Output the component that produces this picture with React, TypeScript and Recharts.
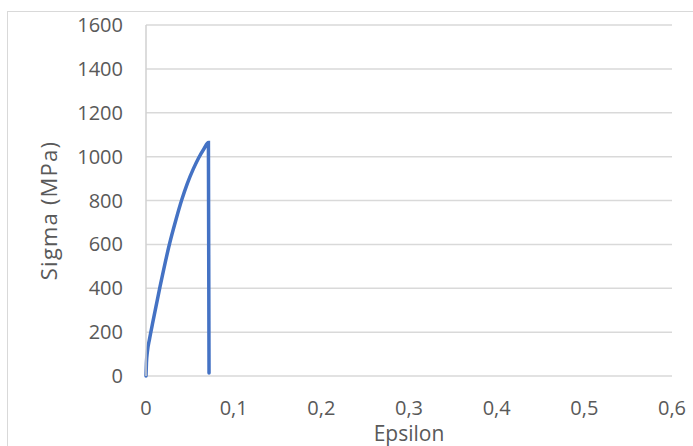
import { CartesianGrid, Label, Line, LineChart, XAxis, YAxis } from "recharts";

const epsilon = [0, 0.0005, 0.0015, 0.004, 0.008, 0.016, 0.027, 0.034, 0.0407, 0.047, 0.054, 0.06, 0.066, 0.0712, 0.0719];
const sigma = [0, 60, 108, 168, 250, 407, 605, 710, 802, 876, 944, 994, 1035, 1064, 14];
const xTicks = [0, 0.1, 0.2, 0.3, 0.4, 0.5, 0.6];
const yTicks = [0, 200, 400, 600, 800, 1000, 1200, 1400, 1600];

const data = epsilon.map((e, i) => ({ eps: e, sigma: sigma[i] }));

const font = "'Open Sans', 'Noto Sans', sans-serif";
const textColor = "#595959";
const tickStyle = { fill: textColor, fontSize: 20, fontFamily: font };

const App = () => (
  <div style={ { position: "absolute", left: 0, top: 0, width: 693, height: 446, overflow: "hidden", background: "#fff" } }>
    <div style={ { position: "absolute", left: 7, top: 11, width: 720, height: 480, border: "1px solid #d9d9d9" } }/>
    <LineChart width={ 693 } height={ 446 } data={ data } margin={ { top: 25, right: 21, left: 0, bottom: 0 } }
               style={ { position: "absolute", left: 0, top: 0 } }>
      <CartesianGrid vertical={ false } stroke="#d9d9d9" strokeWidth={ 1.5 }/>
      <XAxis dataKey="eps" type="number" domain={ [0, 0.6] } ticks={ xTicks } height={ 70 }
             axisLine={ false } tickLine={ false } tickMargin={ 19 } tick={ tickStyle }
             tickFormatter={ (v: number) => String(v).replace(".", ",") }>
        <Label content={ ({ viewBox }: any) => (
          <text x={ viewBox.x + viewBox.width / 2 } y={ viewBox.y + 65 } textAnchor="middle"
                fill={ textColor } fontSize={ 21 } fontFamily={ font }>Epsilon</text>
        ) }/>
      </XAxis>
      <YAxis type="number" domain={ [0, 1600] } ticks={ yTicks } width={ 146 }
             axisLine={ { stroke: "#d0d0d0", strokeWidth: 1.5 } } tickLine={ false } tickMargin={ 17 } tick={ tickStyle }>
        <Label content={ ({ viewBox }: any) => {
          const cx = viewBox.x + 48;
          const cy = viewBox.y + viewBox.height / 2 + 10;
          return (
            <text x={ cx } y={ cy } transform={ `rotate(-90 ${ cx } ${ cy })` } textAnchor="middle"
                  dominantBaseline="central" fill={ textColor } fontSize={ 22 } letterSpacing={ 1.2 }
                  fontFamily={ font }>Sigma (MPa)</text>
          );
        } }/>
      </YAxis>
      <Line dataKey="sigma" type="monotone" stroke="#4472C4" strokeWidth={ 3.5 } dot={ false }
            activeDot={ false } isAnimationActive={ false } strokeLinecap="round"/>
    </LineChart>
  </div>
);

export default App;
